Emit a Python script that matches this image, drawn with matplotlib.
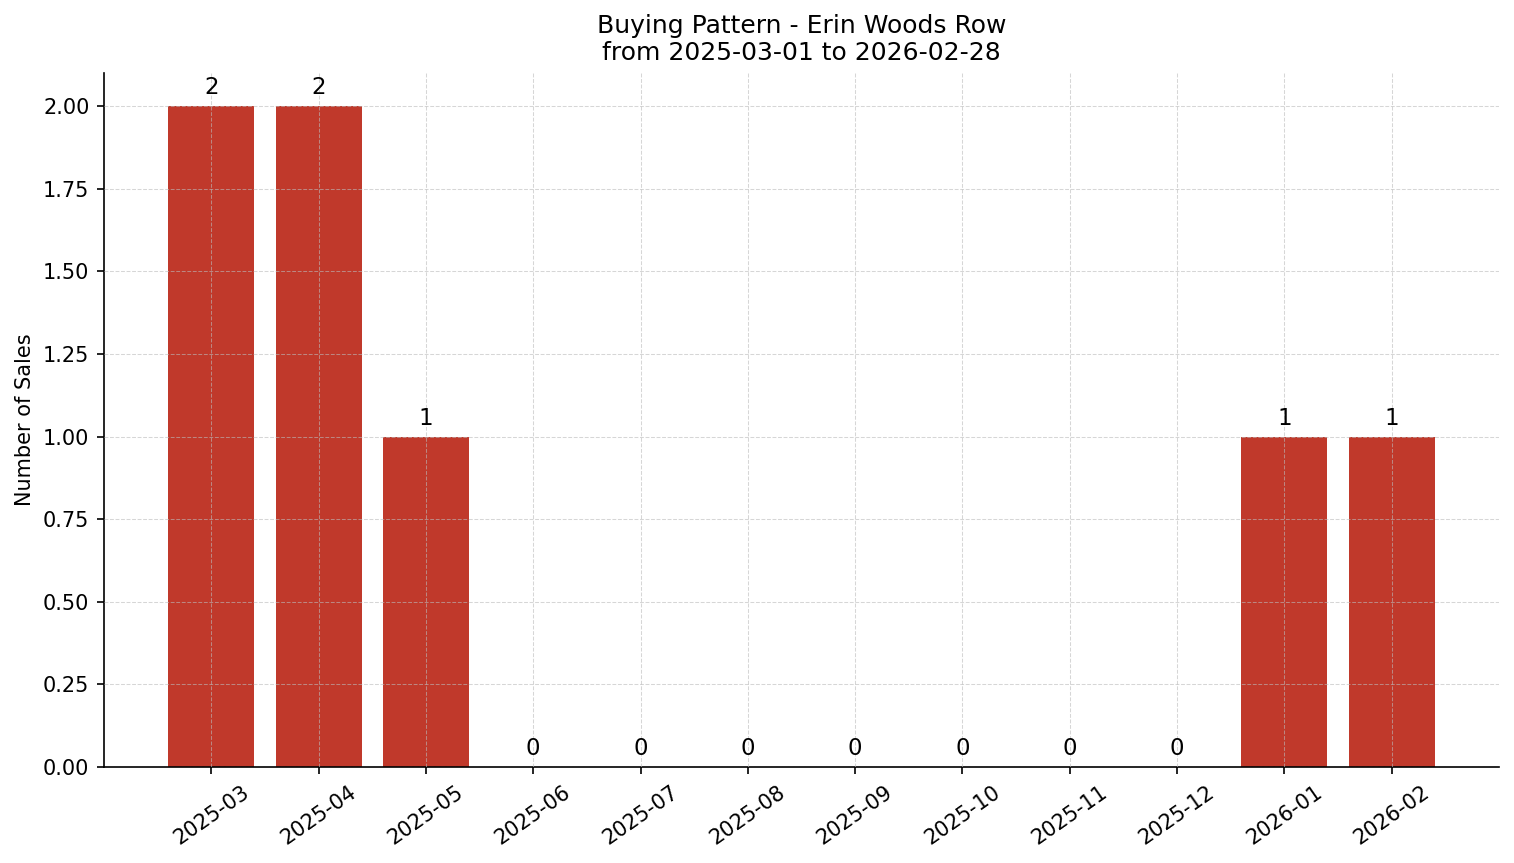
import matplotlib.pyplot as plt

months = ["2025-03", "2025-04", "2025-05", "2025-06", "2025-07", "2025-08",
          "2025-09", "2025-10", "2025-11", "2025-12", "2026-01", "2026-02"]
sales = [2, 2, 1, 0, 0, 0, 0, 0, 0, 0, 1, 1]


def main():
    fig, ax = plt.subplots(figsize=(1514 / 150, 863 / 150), dpi=150)

    x = list(range(len(months)))
    ax.bar(x, sales, width=0.8, color="#c0392b", zorder=2)
    for xi, v in zip(x, sales):
        ax.text(xi, v + 0.02, str(v), ha="center", va="bottom", fontsize=11)

    ax.set_xticks(x)
    ax.set_xticklabels(months, rotation=35, fontsize=10)
    ax.tick_params(axis="y", labelsize=10)
    ax.set_xlim(-1, 12)
    ax.set_ylim(0, 2.1)
    ax.set_ylabel("Number of Sales", fontsize=10)
    ax.set_title("Buying Pattern - Erin Woods Row\nfrom 2025-03-01 to 2026-02-28", fontsize=12)
    ax.grid(True, linestyle="--", linewidth=0.5, color="#bbbbbb", alpha=0.6, zorder=3)
    ax.set_axisbelow(False)
    ax.spines["top"].set_visible(False)
    ax.spines["right"].set_visible(False)

    fig.subplots_adjust(left=104 / 1514, right=1499 / 1514, top=1 - 73 / 863, bottom=1 - 767 / 863)
    plt.savefig("out.png", dpi=150)


if __name__ == "__main__":
    main()
